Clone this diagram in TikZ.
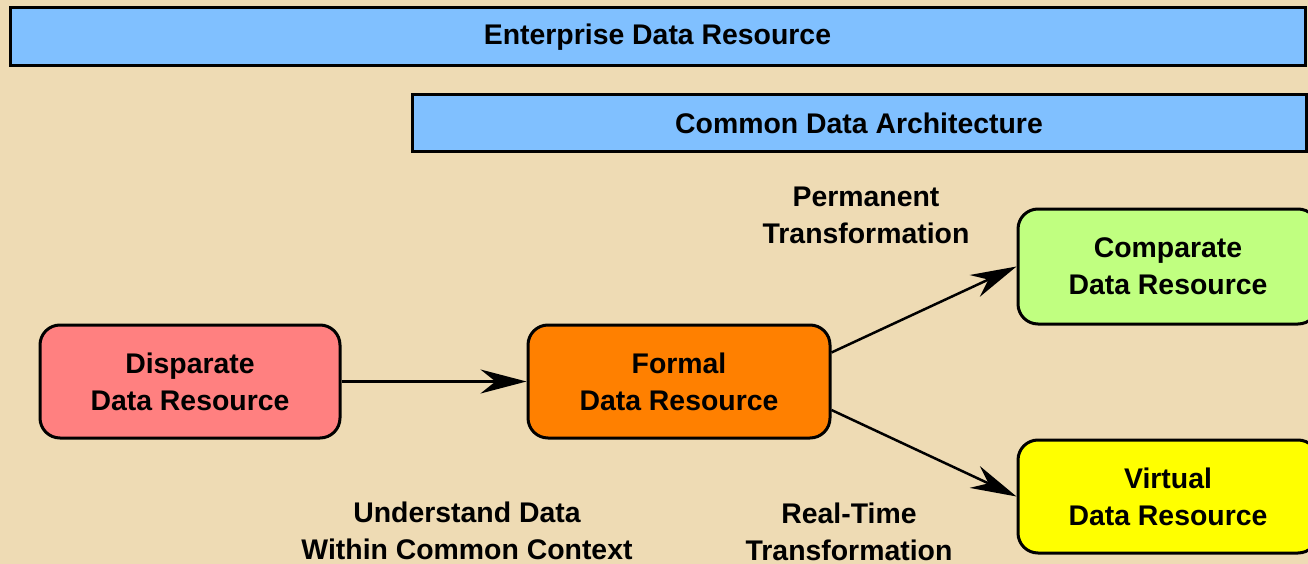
\documentclass[tikz,border=0pt]{standalone}
\usepackage{fontspec}
\setmainfont{Liberation Sans}
\usepackage{tikz}
\usetikzlibrary{arrows.meta,backgrounds}
\definecolor{parchment}{RGB}{238,219,180}
\definecolor{barblue}{RGB}{128,192,255}
\definecolor{dispred}{RGB}{255,128,128}
\definecolor{formorange}{RGB}{255,128,0}
\definecolor{compgreen}{RGB}{192,255,128}
\definecolor{virtyellow}{RGB}{255,255,0}
\tikzstyle{bar} = [draw, line width=3pt, fill=barblue, font=\bfseries\fontsize{28.4}{37}\selectfont]
\tikzstyle{resource} = [draw, line width=3pt, rounded corners=20pt, align=center,
  minimum width=300pt, minimum height=113pt, inner sep=0pt,
  font=\bfseries\fontsize{28.4}{37}\selectfont]
\tikzstyle{caption} = [align=center, font=\bfseries\fontsize{28.4}{37}\selectfont]

\begin{document}
\begin{tikzpicture}[x=1pt, y=-1pt,
  flow/.style = {line width=2.5pt, -{Stealth[length=46pt, width=24pt, inset=15pt]}}]
  \clip (0,0) rectangle (1308,564);
  \fill[parchment] (0,0) rectangle (1308,564);
  % top bars
  \node[bar, minimum width=1295pt, minimum height=58pt] (enterprise) at (657.5,37) {Enterprise Data Resource};
  \node[bar, minimum width=894pt, minimum height=57pt] (common) at (859,123.5) {Common Data Architecture};
  % resources
  \node[resource, fill=dispred] (disparate) at (190,381.5) {Disparate\\Data Resource};
  \node[resource, fill=formorange, minimum width=302pt] (formal) at (679,381.5) {Formal\\Data Resource};
  \node[resource, fill=compgreen, minimum height=115pt] (comparate) at (1168,266.5) {Comparate\\Data Resource};
  \node[resource, fill=virtyellow] (virtual) at (1168,496.5) {Virtual\\Data Resource};
  % transformations
  \draw[flow] (disparate.east) -- (formal.west);
  \draw[flow] ([yshift=29pt]formal.east) -- (comparate.west);
  \draw[flow] ([yshift=-28.5pt]formal.east) -- (virtual.west);
  \node[caption] (permanent) at (866,215.5) {Permanent\\Transformation};
  \node[caption] (realtime) at (849,532) {Real-Time\\Transformation};
  \node[caption] (understand) at (467,531) {Understand Data\\Within Common Context};
\end{tikzpicture}
\end{document}
